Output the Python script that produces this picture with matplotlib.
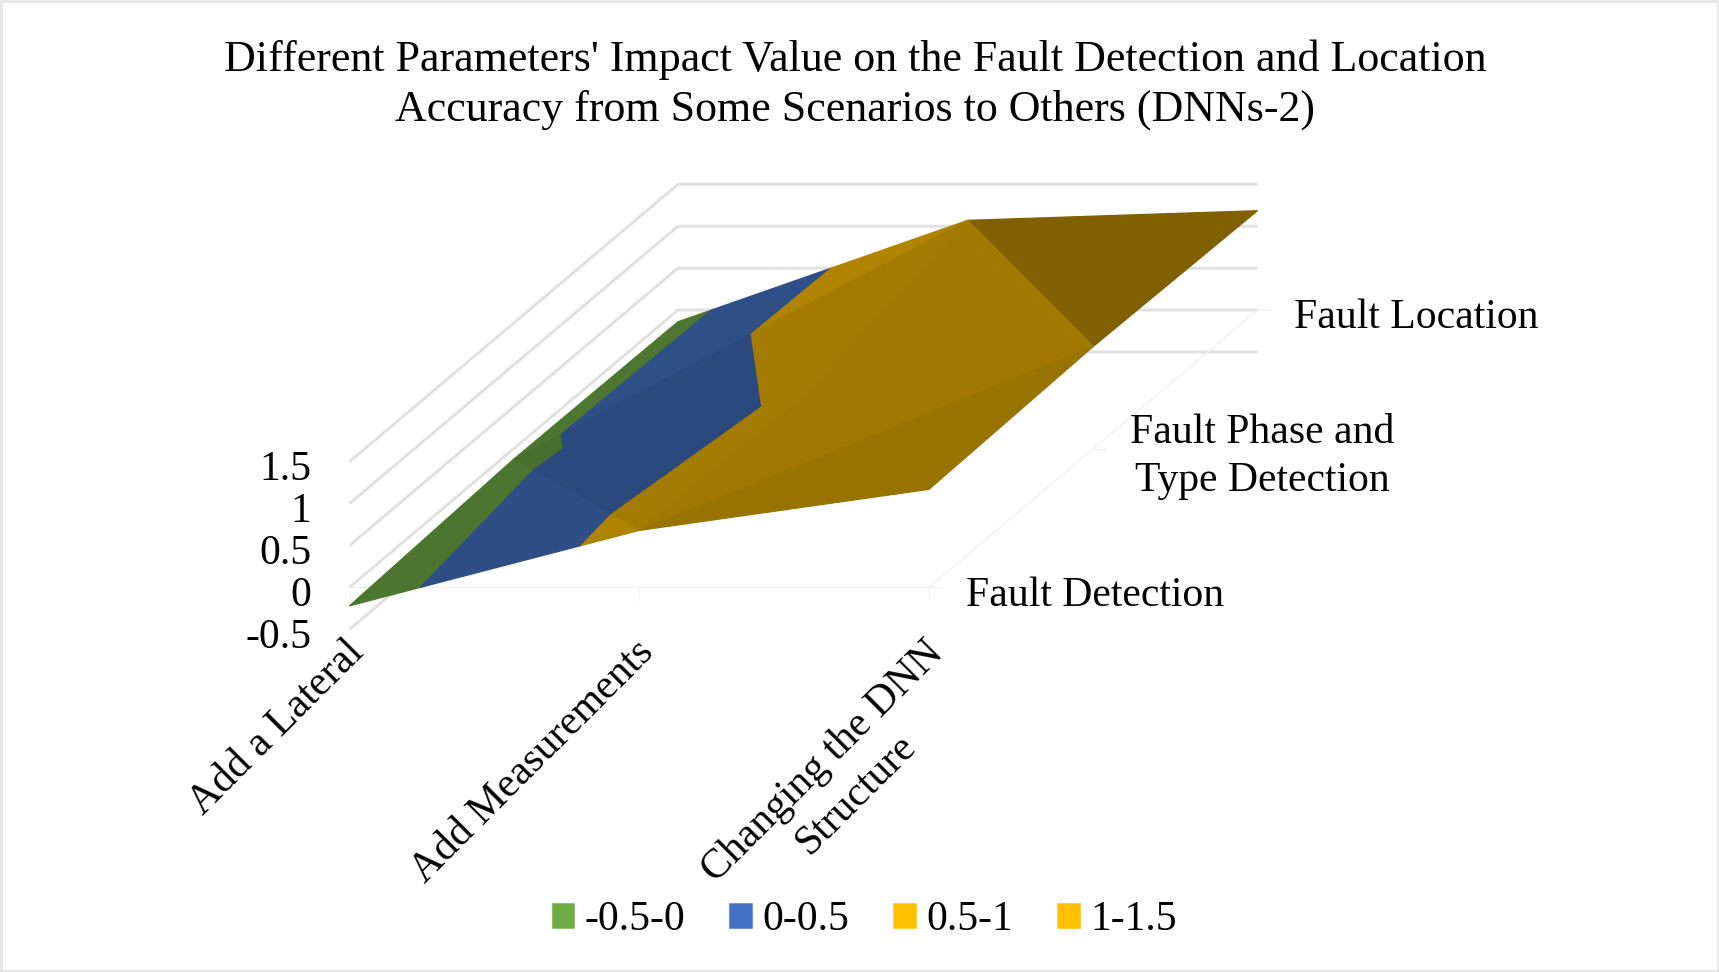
import numpy as np
import matplotlib
matplotlib.use("Agg")
import matplotlib.pyplot as plt
from matplotlib.patches import Polygon, Patch, Rectangle

plt.rcParams['font.family'] = ['Liberation Serif', 'DejaVu Serif']

title = "Different Parameters' Impact Value on the Fault Detection and Location\nAccuracy from Some Scenarios to Others (DNNs-2)"
categories = ["Add a Lateral", "Add Measurements", "Changing the DNN\nStructure"]
series_names = ["Fault Detection", "Fault Phase and\nType Detection", "Fault Location"]
fault_detection = [-0.22, 0.68, 1.17]
fault_phase_type = [-0.125, 0.605, 1.22]
fault_location = [-0.14, 1.07, 1.185]
z_ticks = [-0.5, 0, 0.5, 1, 1.5]
z_tick_labels = ["-0.5", "0", "0.5", "1", "1.5"]
band_labels = ["-0.5-0", "0-0.5", "0.5-1", "1-1.5"]
band_edges = [-0.5, 0, 0.5, 1, 1.5]
band_colors = ["#70ad47", "#4472c4", "#ffc000", "#ffc000"]

values = np.array([fault_detection, fault_phase_type, fault_location])

# oblique projection of the chart box onto the canvas (pixels)
X0, Y0 = 349.5, 587.4
CAT_STEP = 289.75
ROW_DX, ROW_DY = 164.25, -138.7
Z_UNIT = -83.8


def project(i, j, z):
    return X0 + CAT_STEP * i + ROW_DX * j, Y0 + ROW_DY * j + Z_UNIT * z


def clip_z(pts, level, keep_above):
    # one pass of polygon clipping against a height level
    out = []
    for k in range(len(pts)):
        a, b = pts[k], pts[(k + 1) % len(pts)]
        a_in = a[2] >= level if keep_above else a[2] <= level
        b_in = b[2] >= level if keep_above else b[2] <= level
        if a_in:
            out.append(a)
        if a_in != b_in:
            t = (level - a[2]) / (b[2] - a[2])
            out.append(tuple(a[n] + t * (b[n] - a[n]) for n in range(3)))
    return out


# the surface facets (column, row) with the shade Excel gives each one
facets = [
    ([(0, 1), (0, 2), (1, 2)], 0.69),
    ([(1, 2), (2, 1), (2, 2)], 0.50),
    ([(0, 1), (1, 1), (1, 2)], 0.64),
    ([(1, 1), (2, 1), (1, 2)], 0.632),
    ([(1, 0), (1, 1), (0, 1)], 0.64),
    ([(1, 0), (2, 1), (1, 1)], 0.632),
    ([(0, 0), (1, 0), (0, 1)], 0.68),
    ([(1, 0), (2, 0), (2, 1)], 0.60),
]

fig = plt.figure(figsize=(17.19, 9.72), dpi=100)
ax = fig.add_axes([0, 0, 1, 1])
ax.set_xlim(0, 1719)
ax.set_ylim(972, 0)
ax.axis("off")

fig.add_artist(Rectangle((0, 0), 1, 1, transform=fig.transFigure, fill=False,
                         ec="#e7e7e7", lw=3.6))

# walls
for z in z_ticks:
    xs, ys = zip(project(0, 0, z), project(0, 2, z), project(2, 2, z))
    ax.plot(xs, ys, color="#e1e1e1", lw=2.2, solid_joinstyle="miter",
            solid_capstyle="butt", zorder=1)

# base axes and tick marks
axis_color = "#efefef"
xs, ys = zip(project(0, 0, 0), project(2, 0, 0), project(2, 2, 0))
ax.plot(xs, ys, color=axis_color, lw=0.8, zorder=1)
for i in range(len(categories)):
    x, y = project(i, 0, 0)
    ax.plot([x, x], [y, y + 13], color=axis_color, lw=0.8, zorder=1)
for j in range(len(series_names)):
    x, y = project(2, j, 0)
    ax.plot([x, x + 13], [y, y], color=axis_color, lw=0.8, zorder=1)

# surface, split into the colour bands (the two gold bands are one fill)
for corners, shade in facets:
    tri = [(i, j, values[j, i]) for i, j in corners]
    for b, base in enumerate(band_colors):
        if b > 0 and band_colors[b - 1] == base:
            continue
        top = b + 1
        while top < len(band_colors) and band_colors[top] == base:
            top += 1
        poly = clip_z(tri, band_edges[b], True)
        if poly:
            poly = clip_z(poly, band_edges[top], False)
        if len(poly) < 3:
            continue
        rgb = np.array(matplotlib.colors.to_rgb(base)) * shade
        # stroke wide enough that neighbouring facets leave no light seam
        ax.add_patch(Polygon([project(*p) for p in poly], closed=True, fc=rgb,
                             ec=rgb, lw=0.9, joinstyle="bevel", zorder=3))

fs = 30
ax.text(855, 85, title, ha="center", va="center", fontsize=31.7, linespacing=1.3)

for z, label in zip(z_ticks, z_tick_labels):
    x, y = project(0, 0, z)
    ax.text(x - 38, y + 8, label, ha="right", va="center", fontsize=fs)

for i, name in enumerate(categories):
    x, y = project(i, 0, 0)
    ax.text(x - 5, y + 46, name, rotation=45, rotation_mode="anchor", ha="right",
            va="top", fontsize=fs, multialignment="center", linespacing=1.27)

for j, name in enumerate(series_names):
    x, y = project(2, j, 0)
    ax.text(x + 37, y + 8, name, ha="left", va="center", fontsize=fs,
            multialignment="center", linespacing=1.3)

handles = [Patch(fc=c, ec=matplotlib.colors.to_rgba(c, 0.5), lw=0.8) for c in band_colors]
ax.legend(handles, band_labels, loc="center", bbox_to_anchor=(0.5028, 0.0535),
          ncol=4, frameon=False, fontsize=fs, handlelength=0.55, handleheight=0.55,
          handletextpad=0.25, columnspacing=1.05)

fig.savefig("out.png", dpi=100)
